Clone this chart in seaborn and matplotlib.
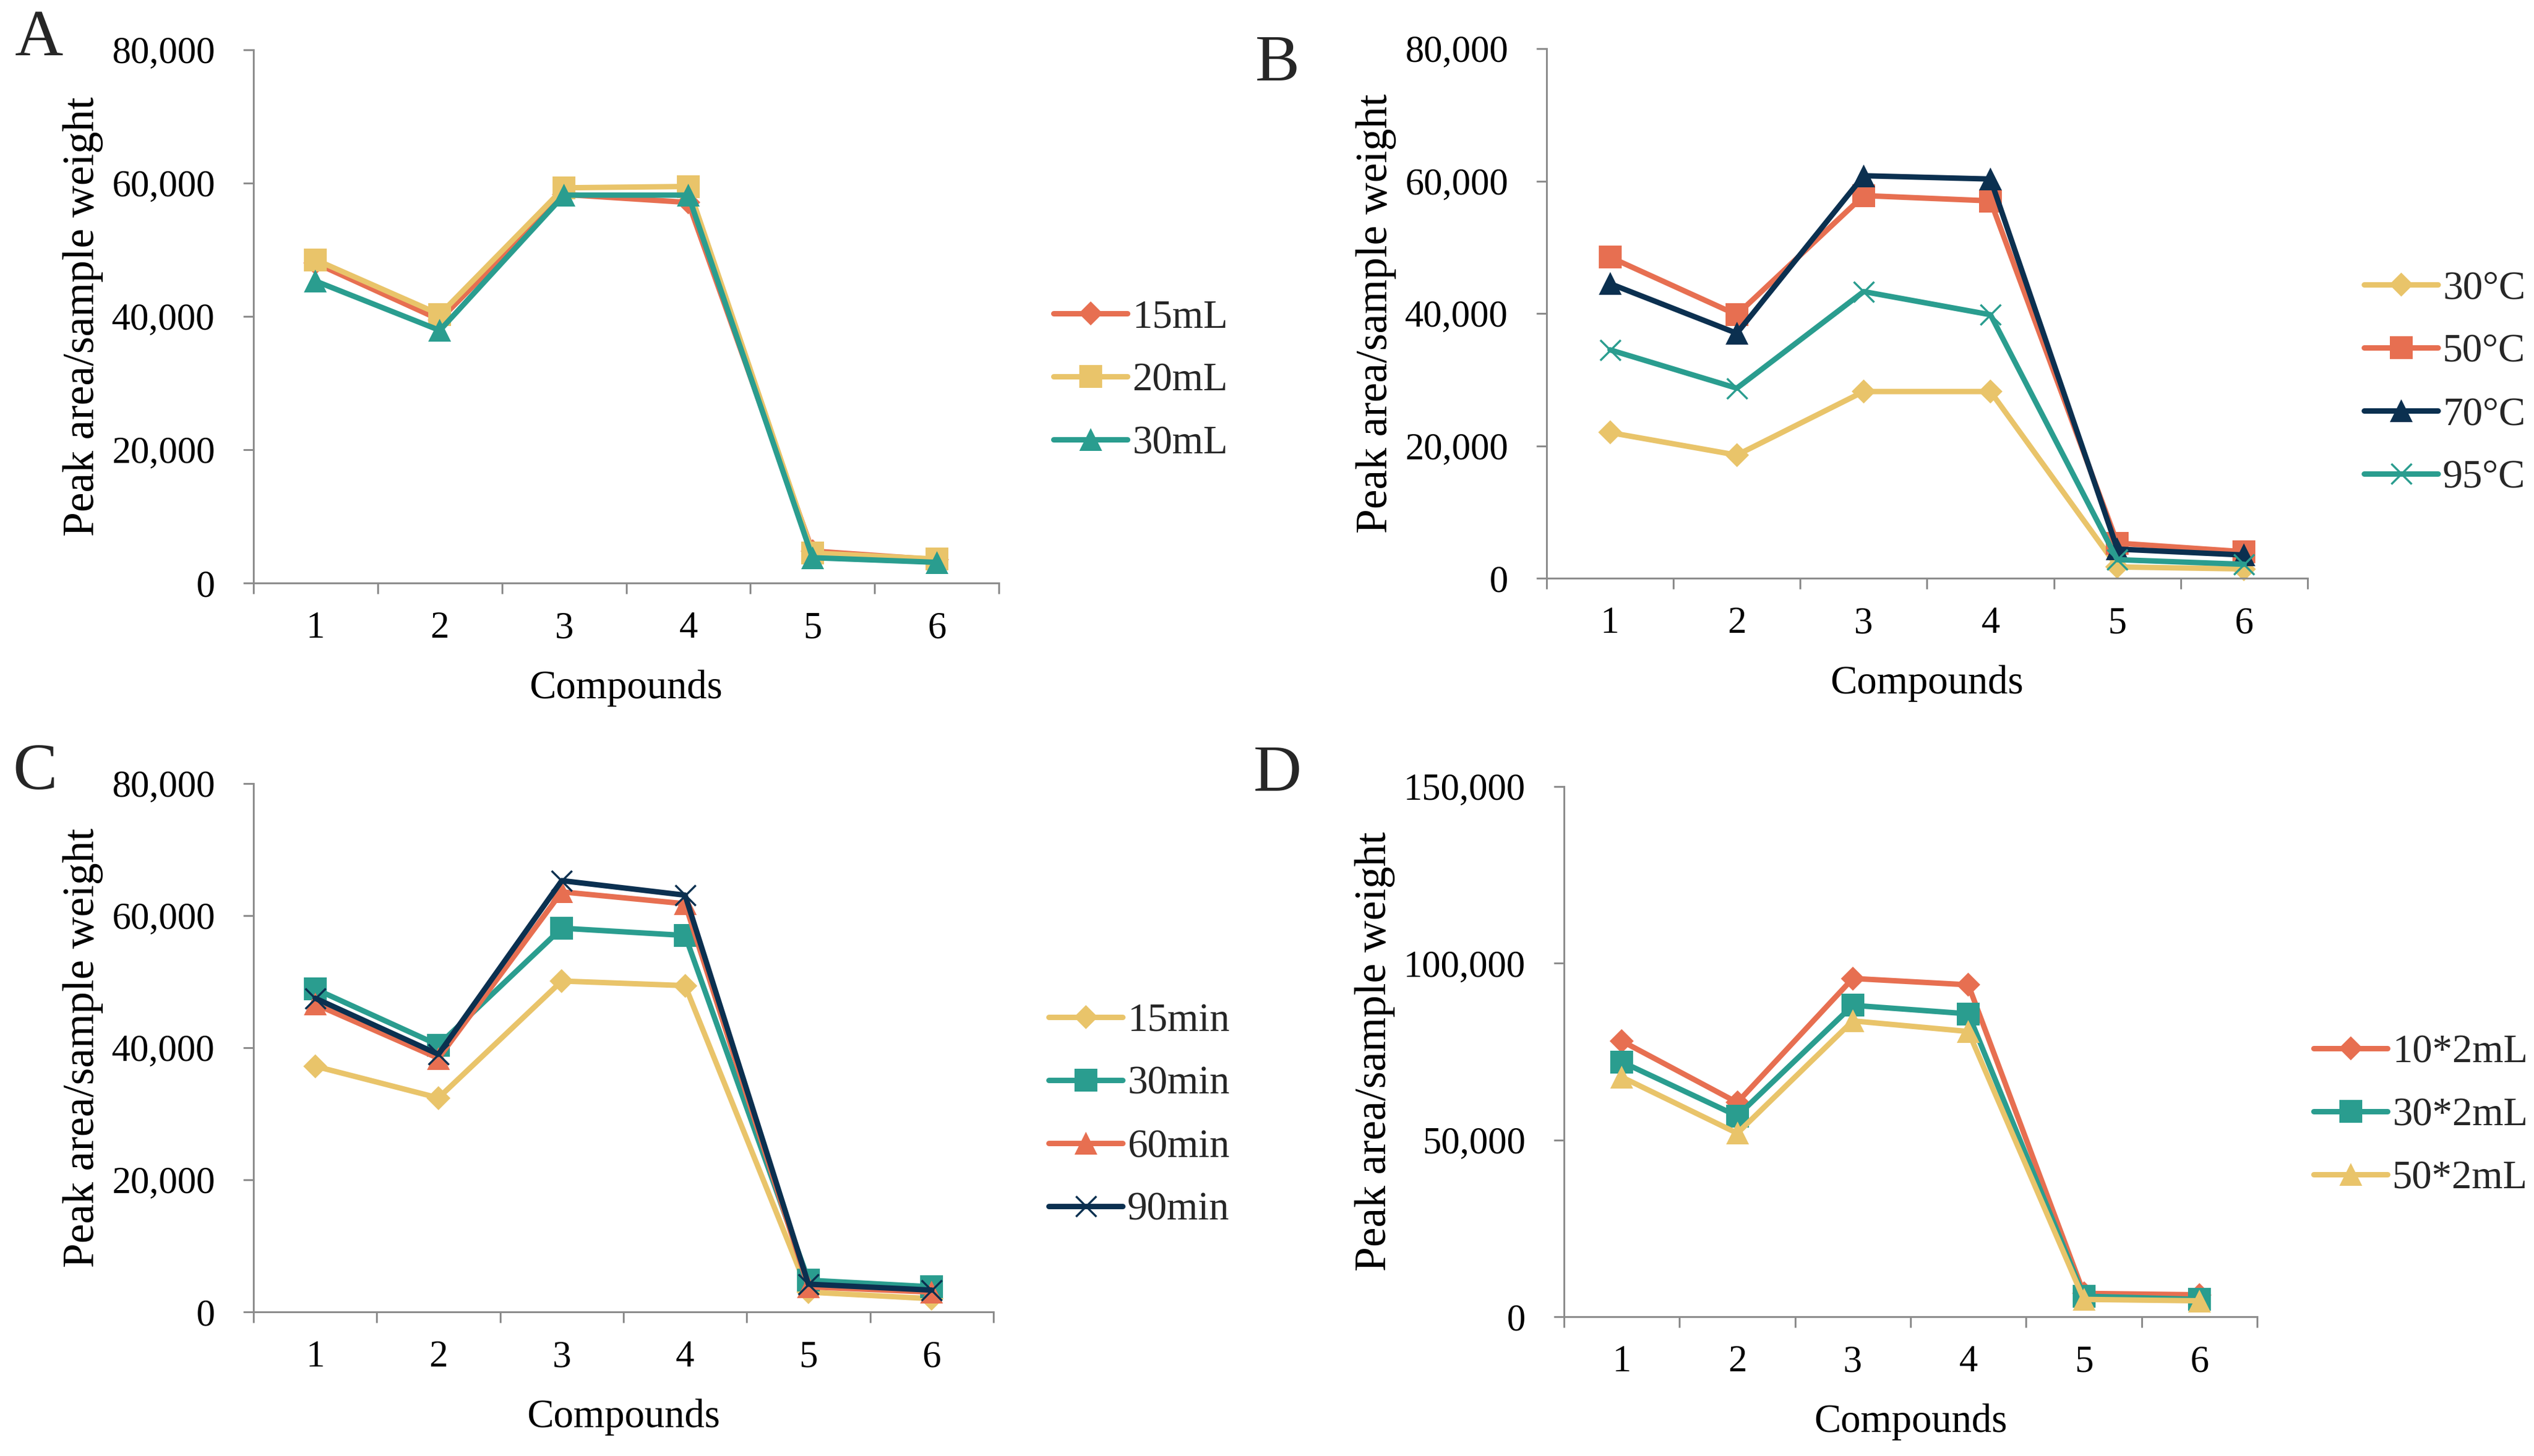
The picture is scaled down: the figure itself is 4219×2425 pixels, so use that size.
import numpy as np
import pandas as pd
import seaborn as sns
import matplotlib
matplotlib.use("Agg")
import matplotlib.pyplot as plt
from matplotlib.lines import Line2D
from matplotlib.ticker import FuncFormatter, FixedLocator

sns.set_theme(style="white")
plt.rcParams["font.family"] = ["Liberation Serif", "DejaVu Serif"]

compounds = [1, 2, 3, 4, 5, 6]

# Panel A: solvent volume
a_labels = ["15mL", "20mL", "30mL"]
a_15 = [48000, 39500, 58300, 57100, 4800, 3500]
a_20 = [48500, 40300, 59300, 59500, 4500, 3600]
a_30 = [45300, 37900, 58200, 58200, 3800, 3100]

# Panel B: temperature
b_labels = ["30°C", "50°C", "70°C", "95°C"]
b_30 = [22000, 18600, 28200, 28200, 1700, 1400]
b_50 = [48500, 39800, 57800, 57000, 5300, 4000]
b_70 = [44500, 37000, 60800, 60300, 4400, 3500]
b_95 = [34500, 28700, 43300, 39800, 2800, 2100]

# Panel C: time
c_labels = ["15min", "30min", "60min", "90min"]
c_15 = [37200, 32400, 50100, 49400, 3000, 2000]
c_30 = [48900, 40400, 58100, 57000, 4800, 3800]
c_60 = [46600, 38400, 63600, 61800, 3800, 3000]
c_90 = [47500, 39000, 65300, 63100, 4200, 3300]

# Panel D: extraction repeats
d_labels = ["10*2mL", "30*2mL", "50*2mL"]
d_10 = [78000, 60600, 95700, 93900, 6600, 6200]
d_30 = [72100, 56800, 88100, 85700, 5800, 4900]
d_50 = [67800, 51900, 83700, 80700, 4900, 4500]

RED = "#E76F51"
YEL = "#E9C46A"
TEAL = "#2A9D8F"
NAVY = "#0B3050"

W, H = 4219, 2425
fig = plt.figure(figsize=(W / 100, H / 100), dpi=100)

MS = {"D": 20, "s": 28, "^": 27, "x": 24}

def fmt(v, pos):
    return f"{int(v):,}"

def panel(box, letter, letter_xy, labels, series, colors, markers, ymax, ystep, leg_xy):
    l, t, r, b = box
    ax = fig.add_axes([l / W, 1 - b / H, (r - l) / W, (b - t) / H])
    for lab, vals, c, m in zip(labels, series, colors, markers):
        df = pd.DataFrame({"Compound": compounds, "Value": vals})
        sns.lineplot(data=df, x="Compound", y="Value", color=c, marker=m,
                     markersize=MS[m], markeredgecolor=c,
                     markeredgewidth=(2.5 if m == "x" else 0),
                     linewidth=6.5, legend=False, ax=ax, clip_on=False)
    ax.set_xlim(0.5, 6.5)
    ax.set_ylim(0, ymax)
    ax.set_xticks(compounds)
    ax.xaxis.set_minor_locator(FixedLocator(np.arange(0.5, 6.6, 1)))
    ax.set_yticks(np.arange(0, ymax + 1, ystep))
    ax.yaxis.set_major_formatter(FuncFormatter(fmt))
    for s in ["top", "right"]:
        ax.spines[s].set_visible(False)
    for s in ["left", "bottom"]:
        ax.spines[s].set_color("#8C8C8C")
        ax.spines[s].set_linewidth(2.2)
    ax.tick_params(axis="x", which="major", length=0, pad=34, labelsize=45, colors="black")
    ax.tick_params(axis="x", which="minor", length=13, width=2.2, color="#8C8C8C", bottom=True)
    ax.tick_params(axis="y", which="major", length=12, width=2.2, color="#8C8C8C",
                   pad=34, labelsize=45, left=True, labelcolor="black")
    ax.set_xlabel("Compounds", fontsize=48, labelpad=28, color="black")
    ax.set_ylabel("Peak area/sample weight", fontsize=53, labelpad=10, color="black")
    ax.grid(False)
    handles = [Line2D([], [], color=c, marker=m, linewidth=6.5, markersize=MS[m],
                      markeredgecolor=c, markeredgewidth=(2.5 if m == "x" else 0))
               for c, m in zip(colors, markers)]
    ax.legend(handles, labels, loc="center left",
              bbox_to_anchor=(leg_xy[0] / W, 1 - leg_xy[1] / H),
              bbox_transform=fig.transFigure, frameon=False, fontsize=48,
              handlelength=1.85, handletextpad=0.12, labelspacing=0.66,
              borderpad=0, borderaxespad=0)
    fig.text(letter_xy[0] / W, 1 - letter_xy[1] / H, letter, fontsize=80,
             ha="center", va="center")
    return ax

panel((422, 83, 1663, 971), "A", (65, 65), a_labels, [a_15, a_20, a_30],
      [RED, YEL, TEAL], ["D", "s", "^"], 80000, 20000, (1754, 634))
panel((2575, 81, 3842, 963), "B", (2127, 107), b_labels, [b_30, b_50, b_70, b_95],
      [YEL, RED, NAVY, TEAL], ["D", "s", "^", "x"], 80000, 20000, (3936, 638))
panel((422, 1305, 1654, 2185), "C", (58, 1287), c_labels, [c_15, c_30, c_60, c_90],
      [YEL, TEAL, RED, NAVY], ["D", "s", "^", "x"], 80000, 20000, (1746, 1858))
panel((2604, 1310, 3758, 2193), "D", (2127, 1290), d_labels, [d_10, d_30, d_50],
      [RED, TEAL, YEL], ["D", "s", "^"], 150000, 50000, (3852, 1858))

fig.savefig("out.png", dpi=100)
